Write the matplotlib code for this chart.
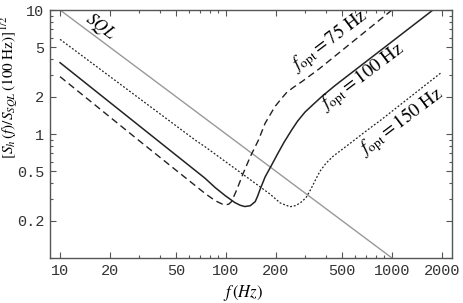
import matplotlib
matplotlib.use("Agg")
import matplotlib.pyplot as plt
from matplotlib.ticker import FixedLocator, NullFormatter

# ── Datos ─────────────────────────────────────────────────────────────────────
sql_f = [10, 1000]
sql_h = [10.0, 0.1]

# f_opt = 75 Hz (discontinua)
f75 = [10, 29.6, 74.7, 86, 95, 99, 104, 108, 116, 127, 140, 157, 172, 197, 215,
       232, 255, 286, 363, 1000]
h75 = [2.90, 0.895, 0.332, 0.29, 0.272, 0.268, 0.272, 0.285, 0.354, 0.482, 0.656,
       0.895, 1.22, 1.66, 1.92, 2.16, 2.38, 2.64, 3.34, 10.0]

# f_opt = 100 Hz (continua)
f100 = [10, 38.4, 74.7, 86, 99, 113, 122, 130, 140, 150, 155, 160, 172, 187, 206,
        224, 249, 270, 299, 335, 377, 454, 1766]
h100 = [3.76, 0.895, 0.44, 0.37, 0.318, 0.28, 0.266, 0.26, 0.264, 0.285, 0.315,
        0.354, 0.45, 0.552, 0.703, 0.86, 1.08, 1.27, 1.50, 1.73, 2.0, 2.46, 10.0]

# f_opt = 150 Hz (punteada)
f150 = [10, 65.1, 74.7, 184, 212, 243, 264, 287, 305, 325, 344, 368, 400, 441,
        500, 559, 707, 847, 2000]
h150 = [5.80, 0.895, 0.790, 0.328, 0.278, 0.259, 0.265, 0.285, 0.31, 0.36, 0.42,
        0.50, 0.58, 0.66, 0.75, 0.84, 1.07, 1.28, 3.16]

x_major = [10, 20, 50, 100, 200, 500, 1000, 2000]
x_major_labels = ["10", "20", "50", "100", "200", "500", "1000", "2000"]
y_major = [0.2, 0.5, 1, 2, 5, 10]
y_major_labels = ["0.2", "0.5", "1", "2", "5", "10"]

# ── Figura ────────────────────────────────────────────────────────────────────
plt.rcParams["mathtext.fontset"] = "stix"
TICK_FONT = "Liberation Mono"
SPINE = "#555555"

fig = plt.figure(figsize=(4.64, 3.03), dpi=100)
ax = fig.add_axes([50 / 464, 1 - 258 / 303, 402 / 464, 248 / 303])

ax.plot(sql_f, sql_h, color="#999999", lw=1.0)
ax.plot(f75, h75, color="#222222", lw=1.0, ls=(0, (5, 3)))
ax.plot(f100, h100, color="#222222", lw=1.1, ls="-")
ax.plot(f150, h150, color="#222222", lw=0.9, ls=(0, (1.5, 1.5)))

ax.set_xscale("log")
ax.set_yscale("log")
ax.set_xlim(8.7, 2300)
ax.set_ylim(0.1, 10)

# ── Ejes y marcas ─────────────────────────────────────────────────────────────
ax.xaxis.set_major_locator(FixedLocator(x_major))
ax.set_xticklabels(x_major_labels)
x_minor = [m * d for d in (10, 100, 1000) for m in range(1, 10)
           if m * d not in x_major and m * d <= 2300]
ax.xaxis.set_minor_locator(FixedLocator(x_minor))
ax.xaxis.set_minor_formatter(NullFormatter())

ax.yaxis.set_major_locator(FixedLocator(y_major))
ax.set_yticklabels(y_major_labels)
y_minor = [m * d for d in (0.1, 1) for m in range(1, 10)
           if round(m * d, 3) not in y_major]
ax.yaxis.set_minor_locator(FixedLocator(y_minor))
ax.yaxis.set_minor_formatter(NullFormatter())

ax.tick_params(which="both", direction="in", top=True, right=True, color=SPINE,
               width=0.8)
ax.tick_params(which="major", length=4.5, pad=4)
ax.tick_params(which="minor", length=2.5)
for lab in ax.get_xticklabels() + ax.get_yticklabels():
    lab.set_fontfamily(TICK_FONT)
    lab.set_fontsize(11)
    lab.set_color("#333333")
for sp in ax.spines.values():
    sp.set_color(SPINE)
    sp.set_linewidth(1.0)

ax.set_xlabel(r"$f\,(Hz)$", fontsize=12)
ax.xaxis.set_label_coords(0.48, -0.1)
ax.set_ylabel(r"$[S_h\,(f)/S_{SQL}\,(100\ \mathrm{Hz})]^{1/2}$", fontsize=11)
ax.yaxis.set_label_coords(-0.075, 0.69)

# ── Etiquetas de las curvas ───────────────────────────────────────────────────
ax.text(17.4, 7.3, r"$SQL$", fontsize=12.5, rotation=-37, ha="center", va="center")
ax.text(423, 5.62, r"$f_{\mathrm{opt}} = 75\ \mathrm{Hz}$", fontsize=13.5,
        rotation=37, ha="center", va="center")
ax.text(669, 2.88, r"$f_{\mathrm{opt}} = 100\ \mathrm{Hz}$", fontsize=13.5,
        rotation=37, ha="center", va="center")
ax.text(1149, 1.25, r"$f_{\mathrm{opt}} = 150\ \mathrm{Hz}$", fontsize=13.5,
        rotation=37, ha="center", va="center")

fig.savefig("out.png", dpi=100)
